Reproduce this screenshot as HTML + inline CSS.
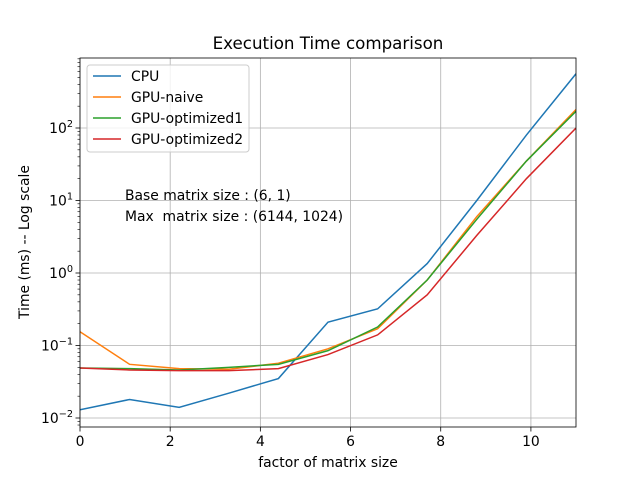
<!DOCTYPE html>
<html><head><meta charset="utf-8"><style>body{margin:0;background:#fff}svg{font-family:"DejaVu Sans","Liberation Sans",sans-serif}</style></head>
<body>
<svg id="chart" width="640" height="480" xmlns="http://www.w3.org/2000/svg"></svg>
<script>
const xValues=[0,1.1,2.2,3.3,4.4,5.5,6.6,7.7,8.8,9.9,11];
const cpu=[0.013,0.018,0.014,0.022,0.035,0.21,0.32,1.35,10,80,560];
const gpuNaive=[0.155,0.055,0.048,0.047,0.057,0.09,0.17,0.8,6,35,180];
const gpuOpt1=[0.049,0.048,0.046,0.05,0.055,0.085,0.18,0.8,5.5,35,170];
const gpuOpt2=[0.049,0.046,0.045,0.045,0.048,0.075,0.14,0.5,3.3,20,100];
const seriesNames=["CPU","GPU-naive","GPU-optimized1","GPU-optimized2"];
const xTicks=[0,2,4,6,8,10];
const yTickExps=[-2,-1,0,1,2];
const colors=["#1f77b4","#ff7f0e","#2ca02c","#d62728"];
const series=[cpu,gpuNaive,gpuOpt1,gpuOpt2];
const L=80,R=576,T=58,B=427;
const sx=v=>L+(v-0)/11*(R-L);
const sy=v=>273-Math.log10(v)*72.5;
const svg=document.getElementById('chart');
const NS="http://www.w3.org/2000/svg";
function mk(tag,attrs,txt){const e=document.createElementNS(NS,tag);for(const k in attrs)e.setAttribute(k,attrs[k]);if(txt!==undefined)e.textContent=txt;svg.appendChild(e);return e;}
const defs=document.createElementNS(NS,'defs');defs.innerHTML='<clipPath id="clip"><rect x="'+L+'" y="'+T+'" width="'+(R-L)+'" height="'+(B-T)+'"/></clipPath>';svg.appendChild(defs);
xTicks.forEach(t=>{const x=sx(t);
 let g=mk('line',{x1:x,x2:x,y1:T,y2:B,stroke:'#b0b0b0','stroke-width':0.8});
 
 let k=mk('line',{x1:x,x2:x,y1:B,y2:B+4.5,stroke:'#000','stroke-width':0.8});
 
 let l=mk('text',{x:x,y:B+19,'text-anchor':'middle','font-size':13.9},String(t));
 });
yTickExps.forEach(e=>{const y=sy(Math.pow(10,e));
 let g=mk('line',{x1:L,x2:R,y1:y,y2:y,stroke:'#b0b0b0','stroke-width':0.8});
 
 let k=mk('line',{x1:L-4.5,x2:L,y1:y,y2:y,stroke:'#000','stroke-width':0.8});
 
 let l=mk('text',{x:L-7,y:y+5,'text-anchor':'end','font-size':13.9});
 
 l.innerHTML='10<tspan dy="-6" font-size="9.7">'+(e<0?'\u2212'+(-e):e)+'</tspan>';
});
for(let e=-3;e<=2;e++){for(let m=2;m<10;m++){const yy=sy(Math.pow(10,e)*m);if(yy<T||yy>B)continue;
 let mt=mk('line',{x1:L-2.5,x2:L,y1:yy,y2:yy,stroke:'#000','stroke-width':0.6});
 }}
series.forEach((s,i)=>{const p=s.map((v,j)=>sx(xValues[j])+','+sy(v)).join(' ');
 let pl=mk('polyline',{points:p,fill:'none',stroke:colors[i],'stroke-width':1.5,'clip-path':'url(#clip)'});
 });
let fr=mk('rect',{x:L,y:T,width:R-L,height:B-T,fill:'none',stroke:'#000','stroke-width':0.8});

let t=mk('text',{x:328,y:49,'text-anchor':'middle','font-size':16.7},'Execution Time comparison');

let xt=mk('text',{x:328,y:467,'text-anchor':'middle','font-size':13.9},'factor of matrix size');

let yt=mk('text',{x:0,y:0,'text-anchor':'middle','font-size':13.9,transform:'translate(29,242) rotate(-90)'},'Time (ms) -- Log scale');

let a1=mk('text',{x:125,y:200,'font-size':13.9},'Base matrix size : (6, 1)');

let a2=mk('text',{x:125,y:221,'font-size':13.9,style:'white-space:pre'},'Max  matrix size : (6144, 1024)');

let lg=mk('rect',{x:87,y:65,width:162,height:87,rx:3,fill:'#fff','fill-opacity':0.8,stroke:'#ccc'});

seriesNames.forEach((n,i)=>{const y=76+i*21;
 let ln=mk('line',{x1:93,x2:121,y1:y,y2:y,stroke:colors[i],'stroke-width':1.5});
 
 let tx=mk('text',{x:131,y:y+5,'font-size':13.9},n);
 });
</script>
</body></html>
